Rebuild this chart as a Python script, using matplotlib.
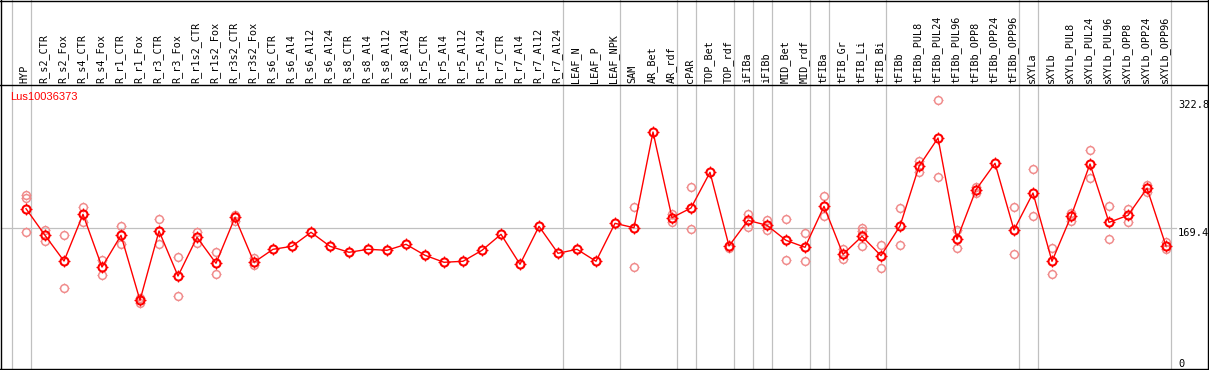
import matplotlib
matplotlib.use("Agg")
import matplotlib.pyplot as plt
from matplotlib.path import Path
import numpy as np

gene = "Lus10036373"

samples = [
    "HYP", "R_s2_CTR", "R_s2_Fox", "R_s4_CTR", "R_s4_Fox", "R_r1_CTR", "R_r1_Fox",
    "R_r3_CTR", "R_r3_Fox", "R_r1s2_CTR", "R_r1s2_Fox", "R_r3s2_CTR", "R_r3s2_Fox",
    "R_s6_CTR", "R_s6_Al4", "R_s6_Al12", "R_s6_Al24", "R_s8_CTR", "R_s8_Al4",
    "R_s8_Al12", "R_s8_Al24", "R_r5_CTR", "R_r5_Al4", "R_r5_Al12", "R_r5_Al24",
    "R_r7_CTR", "R_r7_Al4", "R_r7_Al12", "R_r7_Al24", "LEAF_N", "LEAF_P", "LEAF_NPK",
    "SAM", "AR_Bet", "AR_rdf", "cPAR", "TOP_Bet", "TOP_rdf", "iFIBa", "iFIBb",
    "MID_Bet", "MID_rdf", "tFIBa", "tFIB_Gr", "tFIB_Li", "tFIB_Bi", "tFIBb",
    "tFIBb_PUL8", "tFIBb_PUL24", "tFIBb_PUL96", "tFIBb_OPP8", "tFIBb_OPP24",
    "tFIBb_OPP96", "sXYLa", "sXYLb", "sXYLb_PUL8", "sXYLb_PUL24", "sXYLb_PUL96",
    "sXYLb_OPP8", "sXYLb_OPP24", "sXYLb_OPP96",
]

means = [
    192.6, 160.6, 129.7, 185.8, 122.5, 160.6, 82.5, 165.8, 111.7, 158.2, 127.0, 182.2, 128.2,
    143.8, 147.4, 164.2, 147.4, 140.2, 143.8, 142.6, 149.8, 136.6, 128.2, 129.4, 142.6,
    161.8, 125.8, 171.4, 139.0, 143.8, 129.4, 175.0,
    169.7, 284.7, 181.8, 193.4, 236.3, 147.8, 178.6, 172.6, 154.6, 146.2, 195.4, 137.8,
    159.4, 136.1, 171.8, 243.5, 277.5, 155.8, 215.4, 247.1, 167.0, 211.4, 129.4,
    183.4, 246.3, 176.2, 184.6, 217.1, 147.8,
]

replicates = [
    [209.6, 206.0, 164.9], [167.0, 154.1], [160.6, 96.9], [194.2, 177.0], [130.9, 113.3],
    [171.4, 149.8], [85.7, 79.3], [179.8, 149.8], [134.2, 87.7], [164.6, 151.0],
    [140.2, 114.5], [185.4, 178.2], [133.0, 124.9],
    [], [], [], [], [], [], [], [], [], [], [], [], [], [], [], [], [], [], [],
    [194.6, 122.5], [], [186.2, 177.0], [218.3, 167.8], [], [145.4], [186.2, 171.0],
    [178.6, 167.4], [179.8, 130.6], [163.0, 129.4], [207.5, 184.2], [144.2, 132.1],
    [169.7, 166.1, 147.4], [148.6, 121.3], [193.0, 148.6], [249.9, 236.7],
    [322.8, 230.3], [167.0, 145.4], [219.0, 211.4], [], [194.2, 138.1],
    [239.9, 183.8], [145.0, 114.1], [187.8, 178.2], [262.7, 229.1], [195.4, 155.8],
    [192.2, 176.2], [221.4, 212.6], [152.2, 143.8],
]

# group separators sit just after these sample indices
group_ends = [-1, 0, 28, 31, 34, 35, 37, 38, 39, 41, 42, 45, 52, 53, 60]
y_ticks = [0, 169.4, 322.8]

# pixel layout of the original: x = 26 + 19*i, value 0 at row 369, 322.8 at row 100.3
W, H = 1209, 370
px_per_val = (369 - 100.3) / 322.8


def xv(px):
    return (px - 26) / 19.0


def yv(py):
    return (369 - py) / px_per_val


# four short ticks around the circle markers
verts, codes = [], []
for dx, dy in [(0, 1), (0, -1), (1, 0), (-1, 0)]:
    verts += [(dx * 0.72, dy * 0.72), (dx, dy)]
    codes += [Path.MOVETO, Path.LINETO]
ticks = Path(verts, codes)

fig = plt.figure(figsize=(W / 100, H / 100), dpi=100)
ax = fig.add_axes([0, 0, 1, 1])
ax.set_xlim(xv(0), xv(W))
ax.set_ylim(yv(H), yv(0))
ax.axis("off")

grey = "#c0c0c0"
for g in group_ends:
    ax.axvline(g + 0.25, color=grey, lw=0.9, zorder=1)
ax.plot([xv(1), xv(1176)], [169.4, 169.4], color=grey, lw=0.9, zorder=1)

# frame
ax.axvline(xv(1.5), color="black", lw=1.0, zorder=5)
ax.axvline(xv(1207.5), color="black", lw=1.0, zorder=5)
ax.axhline(yv(0.5), color="black", lw=1.0, zorder=5)
ax.axhline(yv(85), color="black", lw=1.0, zorder=5)
ax.axhline(yv(369), color="black", lw=1.0, zorder=5)

idx = np.arange(len(samples))
rx = [i for i, r in enumerate(replicates) for _ in r]
ry = [v for r in replicates for v in r]
pink = "#f08c8c"
ax.plot(rx, ry, ls="none", marker="o", ms=5.6, mfc="none", mec=pink, mew=1.1, zorder=2)
ax.plot(rx, ry, ls="none", marker=ticks, ms=7.6, mec=pink, mew=0.8, zorder=2)
ax.plot(idx, means, color="red", lw=1.0, zorder=3)
ax.plot(idx, means, ls="none", marker="o", ms=5.8, mfc="none", mec="red", mew=1.5, zorder=4)
ax.plot(idx, means, ls="none", marker=ticks, ms=8.0, mec="red", mew=0.9, zorder=4)

for i, name in enumerate(samples):
    ax.text(i - 0.06, yv(83), name, rotation=90, ha="center", va="bottom",
            family="DejaVu Sans Mono", fontsize=7.3, color="black")

ax.text(xv(10), yv(97), gene, color="red", family="Liberation Sans",
        fontsize=8, ha="left", va="center")

for v in y_ticks:
    if v == 0:
        ax.text(xv(1178), v, "0", family="DejaVu Sans Mono", fontsize=7.5,
                ha="left", va="bottom")
    else:
        ax.text(xv(1178), v, f"{v:.1f}", family="DejaVu Sans Mono", fontsize=7.5,
                ha="left", va="top")

fig.savefig("out.png", dpi=100)
